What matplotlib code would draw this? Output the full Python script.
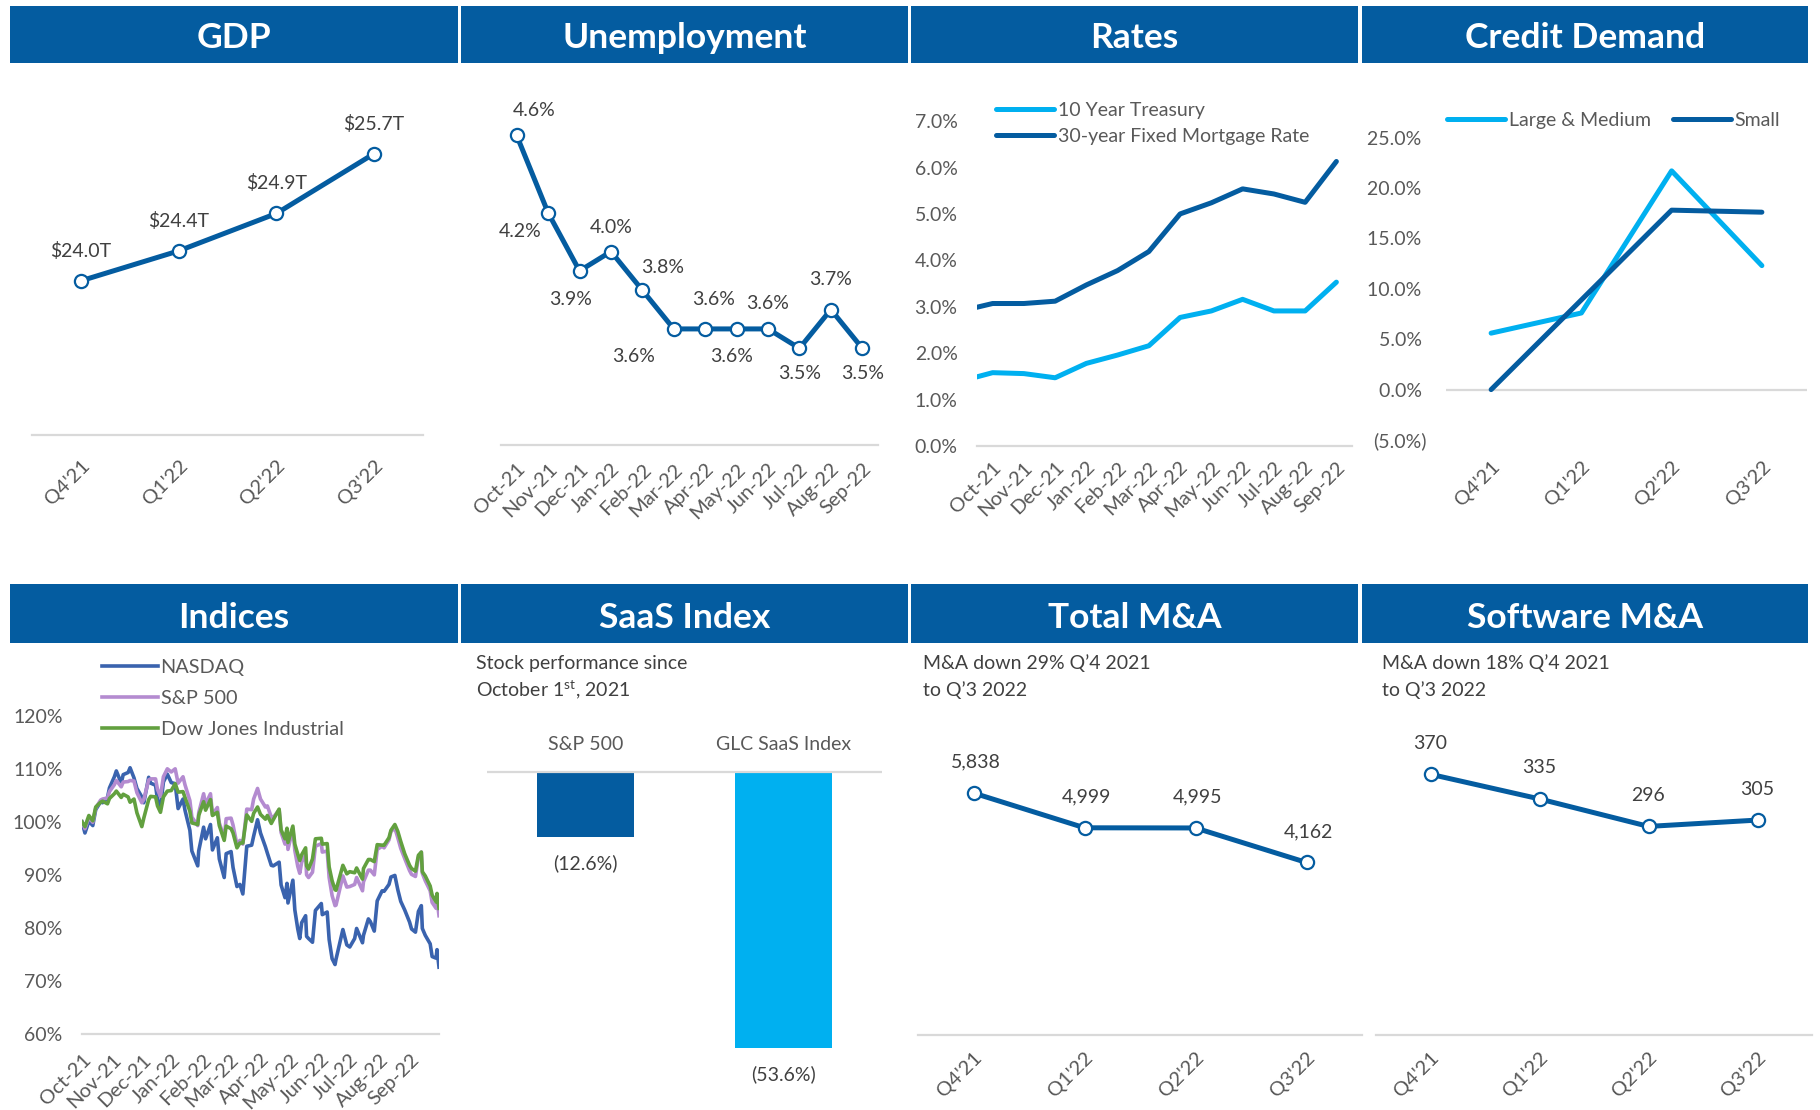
import pandas as pd
import matplotlib
matplotlib.use('Agg')
import matplotlib.pyplot as plt
from matplotlib.patches import Rectangle

plt.rcParams['font.family'] = ['Lato', 'DejaVu Sans']
plt.rcParams['mathtext.fontset'] = 'custom'
plt.rcParams['mathtext.rm'] = 'Lato'

W, H = 1820, 1110
BLUE = '#045CA0'
LIGHT = '#00B0F0'
GRID = '#D9D9D9'
TXT = '#595959'
LBL = '#404040'
FS = 14  # general label size

# ---------------- data ----------------
quarters = ["Q4'21", "Q1'22", "Q2'22", "Q3'22"]
gdp = [24.0, 24.4, 24.9, 25.7]

months = ['Oct-21', 'Nov-21', 'Dec-21', 'Jan-22', 'Feb-22', 'Mar-22',
          'Apr-22', 'May-22', 'Jun-22', 'Jul-22', 'Aug-22', 'Sep-22']
unemployment = [4.6, 4.2, 3.9, 4.0, 3.8, 3.6, 3.6, 3.6, 3.6, 3.5, 3.7, 3.5]

# rates start one month earlier (Sep-21), cut by the axis edge
rate_months = ['Sep-21'] + months
treasury_10y = [1.40, 1.58, 1.56, 1.47, 1.78, 1.96, 2.16, 2.77, 2.91, 3.16, 2.91, 2.91, 3.53]
mortgage_30y = [2.91, 3.07, 3.07, 3.12, 3.47, 3.78, 4.19, 5.00, 5.24, 5.54, 5.43, 5.25, 6.13]

credit_large = [5.6, 7.6, 21.7, 12.3]
credit_small = [0.0, 8.9, 17.8, 17.6]

idx_dates = [
    '2021-10-01', '2021-10-04', '2021-10-08', '2021-10-12', '2021-10-15', '2021-10-20',
    '2021-10-22', '2021-10-27', '2021-10-29', '2021-11-03', '2021-11-05', '2021-11-10',
    '2021-11-12', '2021-11-17', '2021-11-19', '2021-11-23', '2021-11-26', '2021-12-01',
    '2021-12-03', '2021-12-08', '2021-12-10', '2021-12-15', '2021-12-17', '2021-12-20',
    '2021-12-23', '2021-12-27', '2021-12-31', '2022-01-04', '2022-01-07', '2022-01-12',
    '2022-01-14', '2022-01-19', '2022-01-21', '2022-01-27', '2022-01-28', '2022-02-02',
    '2022-02-04', '2022-02-09', '2022-02-11', '2022-02-16', '2022-02-18', '2022-02-23',
    '2022-02-25', '2022-03-02', '2022-03-04', '2022-03-08', '2022-03-11', '2022-03-14',
    '2022-03-18', '2022-03-23', '2022-03-25', '2022-03-29', '2022-04-01', '2022-04-06',
    '2022-04-08', '2022-04-12', '2022-04-14', '2022-04-20', '2022-04-22', '2022-04-26',
    '2022-04-28', '2022-04-29', '2022-05-04', '2022-05-06', '2022-05-09', '2022-05-11',
    '2022-05-13', '2022-05-17', '2022-05-18', '2022-05-20', '2022-05-24', '2022-05-27',
    '2022-06-02', '2022-06-03', '2022-06-08', '2022-06-10', '2022-06-13', '2022-06-16',
    '2022-06-17', '2022-06-24', '2022-06-28', '2022-07-01', '2022-07-06', '2022-07-08',
    '2022-07-14', '2022-07-15', '2022-07-20', '2022-07-22', '2022-07-26', '2022-07-29',
    '2022-08-03', '2022-08-05', '2022-08-10', '2022-08-12', '2022-08-16', '2022-08-19',
    '2022-08-22', '2022-08-26', '2022-08-31', '2022-09-02', '2022-09-06', '2022-09-09',
    '2022-09-12', '2022-09-13', '2022-09-16', '2022-09-21', '2022-09-23', '2022-09-27',
    '2022-09-28', '2022-09-30']
nasdaq = [
    100.0, 97.9, 100.1, 99.3, 102.3, 103.8, 103.6, 104.6, 106.4, 108.5, 109.6, 107.3,
    108.9, 109.3, 110.2, 108.3, 106.3, 104.7, 103.6, 108.4, 107.3, 106.9, 104.1, 102.8,
    107.5, 109.0, 107.4, 107.2, 102.5, 104.3, 102.2, 98.4, 94.5, 91.7, 94.5, 99.0,
    96.8, 99.5, 94.7, 97.0, 93.0, 89.5, 94.0, 94.4, 91.4, 87.8, 88.2, 86.4,
    95.4, 95.6, 97.3, 100.4, 97.9, 95.3, 94.1, 91.8, 91.7, 92.4, 88.1, 85.7,
    88.4, 84.7, 89.0, 83.4, 79.8, 78.0, 81.0, 82.3, 78.4, 78.0, 77.3, 83.3,
    84.6, 82.5, 83.0, 77.8, 74.2, 73.1, 74.1, 79.7, 76.8, 76.4, 78.0, 79.9,
    77.2, 78.6, 81.7, 81.2, 79.4, 85.1, 87.0, 86.9, 88.2, 89.6, 89.9, 87.2,
    85.0, 83.4, 81.1, 79.8, 79.2, 83.1, 84.2, 79.9, 78.6, 77.0, 74.6, 74.3,
    75.9, 72.6]
sp500 = [
    100.0, 98.7, 100.8, 99.9, 102.6, 104.1, 104.3, 104.5, 105.7, 107.0, 107.8, 106.6,
    107.5, 107.6, 107.8, 107.7, 105.5, 103.6, 104.2, 107.9, 108.1, 108.1, 106.1, 104.8,
    108.5, 110.0, 109.4, 110.0, 107.3, 108.5, 107.0, 104.0, 100.9, 99.3, 101.7, 105.3,
    103.3, 105.3, 101.4, 102.7, 99.8, 97.0, 100.6, 100.7, 99.4, 95.7, 96.5, 95.8,
    102.4, 102.3, 104.3, 106.3, 104.3, 102.8, 103.0, 100.9, 100.8, 102.3, 98.0, 95.8,
    98.4, 94.8, 98.7, 94.6, 91.6, 90.3, 92.4, 93.8, 90.0, 89.5, 90.5, 95.4,
    95.9, 94.3, 94.5, 89.5, 86.1, 84.2, 84.3, 89.8, 87.7, 87.8, 88.2, 89.5,
    87.0, 88.7, 90.9, 90.9, 90.0, 94.8, 95.4, 95.1, 96.6, 98.2, 98.8, 97.0,
    95.0, 93.1, 90.8, 90.1, 89.7, 93.3, 94.3, 90.3, 88.9, 87.0, 84.8, 83.7,
    85.4, 82.3]
dow_jones = [
    100.0, 99.1, 101.2, 100.2, 102.8, 103.7, 103.9, 103.4, 104.4, 105.3, 105.8, 104.6,
    105.2, 104.7, 103.7, 104.3, 101.7, 99.1, 100.7, 104.2, 104.8, 104.7, 103.0, 101.8,
    104.7, 105.8, 105.9, 107.2, 105.6, 105.7, 104.6, 102.0, 99.8, 99.5, 101.2, 103.8,
    102.2, 104.2, 101.2, 101.8, 99.3, 96.5, 99.2, 98.7, 97.9, 95.1, 96.0, 96.0,
    101.3, 100.1, 101.6, 102.8, 101.4, 100.5, 101.2, 99.7, 100.4, 102.4, 98.5, 96.8,
    98.8, 96.1, 99.2, 95.8, 93.9, 92.7, 93.8, 95.1, 91.7, 91.1, 93.0, 96.8,
    96.9, 95.8, 95.9, 91.5, 88.9, 87.2, 87.1, 91.8, 90.2, 90.6, 90.4, 91.3,
    89.2, 91.2, 92.9, 92.9, 92.5, 95.7, 95.6, 95.6, 97.0, 98.4, 99.5, 98.2,
    96.3, 94.0, 91.8, 91.2, 90.7, 93.7, 94.3, 90.6, 89.8, 87.9, 86.2, 84.9,
    86.5, 83.7]

saas_labels = ['S&P 500', 'GLC SaaS Index']
saas_perf = [-12.6, -53.6]

total_ma = [5838, 4999, 4995, 4162]
software_ma = [370, 335, 296, 305]

# ---------------- layout helpers ----------------
fig = plt.figure(figsize=(W / 100, H / 100), dpi=100)
fig.patch.set_facecolor('white')


def add_ax(l, t, r, b):
    return fig.add_axes([l / W, 1 - b / H, (r - l) / W, (b - t) / H])


def fx(x):
    return x / W


def fy(y):
    return 1 - y / H


def header(l, r, t, b, title):
    fig.add_artist(Rectangle((fx(l), fy(b)), fx(r - l), (b - t) / H,
                             transform=fig.transFigure, facecolor=BLUE,
                             edgecolor='none'))
    fig.text(fx((l + r) / 2), fy((t + b) / 2 + 4), title, color='white',
             fontsize=25.5, fontweight='bold', ha='center', va='center')


def clean(ax, base=True):
    for s in ax.spines.values():
        s.set_visible(False)
    if base:
        ax.spines['bottom'].set_visible(True)
        ax.spines['bottom'].set_color(GRID)
        ax.spines['bottom'].set_linewidth(1.6)
    ax.tick_params(length=0, colors=TXT, labelsize=FS)
    ax.set_facecolor('none')


def rot_labels(ax, ticks, labels, pad=10, size=14.5):
    ax.set_xticks(ticks)
    ax.set_xticklabels(labels, rotation=45, ha='right', va='top',
                       rotation_mode='anchor', fontsize=size, color=TXT)
    ax.tick_params(axis='x', pad=pad)


def marker_line(ax, x, y):
    ax.plot(x, y, color=BLUE, lw=3.6, marker='o', markersize=9.5,
            markerfacecolor='white', markeredgecolor=BLUE, markeredgewidth=1.6,
            solid_capstyle='round', zorder=3)


def px_to_pt(v):
    return v * 0.72


def legend(ax, x, y, **kw):
    ax.legend(loc='upper left', bbox_to_anchor=(fx(x), fy(y)),
              bbox_transform=fig.transFigure, frameon=False, borderpad=0,
              borderaxespad=0, labelcolor=TXT, **kw)


row1 = (6, 63)
row2 = (584, 643)
cols = [(10, 458), (461, 908), (911, 1358), (1362, 1808)]
titles1 = ['GDP', 'Unemployment', 'Rates', 'Credit Demand']
titles2 = ['Indices', 'SaaS Index', 'Total M&A', 'Software M&A']
for (l, r), t in zip(cols, titles1):
    header(l, r, row1[0], row1[1], t)
for (l, r), t in zip(cols, titles2):
    header(l, r, row2[0], row2[1], t)

# ---------------- GDP ----------------
ax = add_ax(32, 90, 423, 435)
clean(ax)
xq = range(len(quarters))
marker_line(ax, xq, gdp)
ax.set_xlim(-0.5, 3.5)
ax.set_ylim(21.94, 26.55)
ax.set_yticks([])
rot_labels(ax, xq, quarters, pad=16)
for i, v in enumerate(gdp):
    ax.annotate(f'${v:.1f}T', (i, v), xytext=(0, px_to_pt(30)),
                textcoords='offset points', ha='center', va='center',
                fontsize=FS, color=LBL)

# ---------------- Unemployment ----------------
ax = add_ax(501, 90, 878, 445)
clean(ax)
xm = range(len(months))
marker_line(ax, xm, unemployment)
ax.set_xlim(-0.5, 11.5)
ax.set_ylim(3.0, 4.835)
ax.set_yticks([])
rot_labels(ax, xm, months, pad=11)
unemp_offsets = [(17, 25), (-28, -19), (-9, -29), (0, 24), (20, 23), (-40, -28),
                 (8, 29), (-5, -28), (0, 25), (0, -25), (0, 30), (0, -25)]
for i, (v, (dx, dy)) in enumerate(zip(unemployment, unemp_offsets)):
    ax.annotate(f'{v:.1f}%', (i, v), xytext=(px_to_pt(dx), px_to_pt(dy)),
                textcoords='offset points', ha='center', va='center',
                fontsize=FS, color=LBL)

# ---------------- Rates ----------------
ax = add_ax(977, 90, 1352, 446)
clean(ax)
xr = range(len(rate_months))
ax.plot(xr, treasury_10y, color=LIGHT, lw=3.6, solid_capstyle='round',
        label='10 Year Treasury')
ax.plot(xr, mortgage_30y, color=BLUE, lw=3.6, solid_capstyle='round',
        label='30-year Fixed Mortgage Rate')
ax.set_xlim(0.5, 12.5)
ax.set_ylim(0, 7.67)
ax.set_yticks(range(0, 8))
ax.set_yticklabels([f'{v:.1f}%' for v in range(0, 8)])
ax.tick_params(axis='y', pad=14)
rot_labels(ax, list(xr)[1:], rate_months[1:], pad=9)
legend(ax, 996, 102, handlelength=3.0, handletextpad=0.2,
       labelspacing=0.45, fontsize=FS)

# ---------------- Credit Demand ----------------
ax = add_ax(1446, 90, 1807, 440)
clean(ax, base=False)
ax.axhline(0, color=GRID, lw=1.6, zorder=0)
xc = range(len(quarters))
ax.plot(xc, credit_large, color=LIGHT, lw=3.6, solid_capstyle='round',
        label='Large & Medium')
ax.plot(xc, credit_small, color=BLUE, lw=3.6, solid_capstyle='round',
        label='Small')
ax.set_xlim(-0.5, 3.5)
ax.set_ylim(-5, 29.72)
cticks = [-5, 0, 5, 10, 15, 20, 25]
ax.set_yticks(cticks)
ax.set_yticklabels([f'({abs(v):.1f}%)' if v < 0 else f'{v:.1f}% ' for v in cticks])
ax.tick_params(axis='y', pad=14)
rot_labels(ax, xc, quarters, pad=13)
legend(ax, 1447, 112, handlelength=3.0, handletextpad=0.2,
       ncol=2, columnspacing=1.1, fontsize=FS)

# ---------------- Indices ----------------
ax = add_ax(82, 650, 439, 1034)
clean(ax)
dates = pd.to_datetime(idx_dates)
ax.plot(dates, nasdaq, color='#3A63AE', lw=2.6, label='NASDAQ')
ax.plot(dates, sp500, color='#B48BD0', lw=2.6, label='S&P 500')
ax.plot(dates, dow_jones, color='#62A03F', lw=2.6, label='Dow Jones Industrial')
ax.set_xlim(pd.Timestamp('2021-10-01'), pd.Timestamp('2022-09-30'))
ax.set_ylim(60, 132.4)
ax.set_yticks(range(60, 130, 10))
ax.set_yticklabels([f'{v}%' for v in range(60, 130, 10)])
ax.tick_params(axis='y', pad=14)
month_starts = pd.date_range('2021-10-01', '2022-09-01', freq='MS')
rot_labels(ax, month_starts, [d.strftime('%b-%y') for d in month_starts], pad=12)
legend(ax, 102, 659, handlelength=2.8, handletextpad=0.15,
       labelspacing=0.7, fontsize=14.3)

# ---------------- SaaS Index ----------------
ax = add_ax(487, 700, 882, 1090)
clean(ax, base=False)
ax.axhline(0, color=GRID, lw=1.6, zorder=3)
xs = range(len(saas_labels))
ax.bar(xs, saas_perf, width=0.49, color=[BLUE, LIGHT], zorder=2)
ax.set_xlim(-0.5, 1.5)
ax.set_ylim(-61.7, 13.9)
ax.set_xticks([])
ax.set_yticks([])
for i, (name, v) in enumerate(zip(saas_labels, saas_perf)):
    ax.annotate(name, (i, 0), xytext=(0, px_to_pt(27)), textcoords='offset points',
                ha='center', va='center', fontsize=FS, color=TXT)
    ax.annotate(f'({abs(v):.1f}%)', (i, v), xytext=(0, px_to_pt(-26)),
                textcoords='offset points', ha='center', va='center',
                fontsize=FS, color=LBL)
fig.text(fx(476), fy(663), 'Stock performance since', fontsize=FS,
         color=LBL, ha='left', va='center')
fig.text(fx(476), fy(690), r'October 1$^{\mathrm{st}}$, 2021', fontsize=FS,
         color=LBL, ha='left', va='center')

# ---------------- Total M&A ----------------
ax = add_ax(918, 700, 1362, 1035)
clean(ax)
marker_line(ax, xq, total_ma)
ax.set_xlim(-0.5, 3.5)
ax.set_ylim(0, 8082)
ax.set_yticks([])
rot_labels(ax, xq, quarters, pad=10)
for i, v in enumerate(total_ma):
    ax.annotate(f'{v:,}', (i, v), xytext=(px_to_pt(2), px_to_pt(31)),
                textcoords='offset points', ha='center', va='center',
                fontsize=FS, color=LBL)
fig.text(fx(923), fy(663), 'M&A down 29% Q’4 2021', fontsize=FS,
         color=LBL, ha='left', va='center')
fig.text(fx(923), fy(690), 'to Q’3 2022', fontsize=FS,
         color=LBL, ha='left', va='center')

# ---------------- Software M&A ----------------
ax = add_ax(1376, 700, 1812, 1035)
clean(ax)
marker_line(ax, xq, software_ma)
ax.set_xlim(-0.5, 3.5)
ax.set_ylim(0, 475.4)
ax.set_yticks([])
rot_labels(ax, xq, quarters, pad=10)
for i, v in enumerate(software_ma):
    ax.annotate(f'{v:,}', (i, v), xytext=(0, px_to_pt(31)),
                textcoords='offset points', ha='center', va='center',
                fontsize=FS, color=LBL)
fig.text(fx(1382), fy(663), 'M&A down 18% Q’4 2021', fontsize=FS,
         color=LBL, ha='left', va='center')
fig.text(fx(1382), fy(690), 'to Q’3 2022', fontsize=FS,
         color=LBL, ha='left', va='center')

fig.savefig('out.png', dpi=100, facecolor='white')
